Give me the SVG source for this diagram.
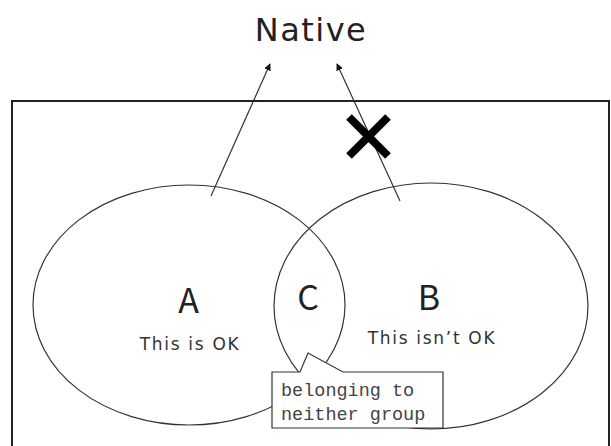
<svg xmlns="http://www.w3.org/2000/svg" width="611" height="446" viewBox="0 0 611 446">
<style>
.ln{fill:none;stroke:#333;stroke-width:1.2}
.t{font-family:"Noto Sans CJK JP","Noto Sans",sans-serif;fill:#222;text-anchor:middle}
.s{font-family:"DejaVu Sans",sans-serif;fill:#333;text-anchor:middle;font-size:17px;letter-spacing:1.7px}
.m{font-family:"Liberation Mono",monospace;fill:#444;font-size:18.5px}
</style>
<defs>
<marker id="ah" viewBox="0 0 10 10" refX="9" refY="5" markerWidth="7" markerHeight="7" orient="auto" markerUnits="userSpaceOnUse">
<path d="M0,0 L10,5 L0,10 Z" fill="#111"/>
</marker>
</defs>
<rect width="611" height="446" fill="#fff"/>
<g id="title"><text x="311" y="41" font-family="DejaVu Sans, sans-serif" font-size="32" letter-spacing="1.5" fill="#222" text-anchor="middle">Native</text></g>
<g id="frame"><rect x="12" y="101" width="597" height="400" fill="none" stroke="#222" stroke-width="2"/></g>
<g id="groupA">
<ellipse class="ln" cx="189" cy="305" rx="156" ry="120"/>
<text class="t" x="188.5" y="313" font-size="34">A</text>
<text class="s" x="190" y="350">This is OK</text>
</g>
<g id="groupB">
<ellipse class="ln" cx="431" cy="306" rx="157" ry="123"/>
<text class="t" x="429" y="310" font-size="34">B</text>
<text class="s" x="432" y="344">This isn’t OK</text>
</g>
<g id="groupC"><text class="t" x="308" y="310" font-size="34">C</text></g>
<g id="connectors">
<line class="ln" x1="211" y1="196" x2="270" y2="64" marker-end="url(#ah)"/>
<line class="ln" x1="400" y1="201" x2="337" y2="64" marker-end="url(#ah)"/>
</g>
<g id="cross">
<path d="M349,117 L388,156 M388,117 L349,156" stroke="#000" stroke-width="8" fill="none"/>
</g>
<g id="callout">
<path d="M272,372 L300,372 L308,353 L343,372 L443,372 L443,428 L272,428 Z" fill="#fff" stroke="#333" stroke-width="1.2"/>
<text class="m" x="281" y="396">belonging to</text>
<text class="m" x="281" y="420">neither group</text>
</g>
</svg>
